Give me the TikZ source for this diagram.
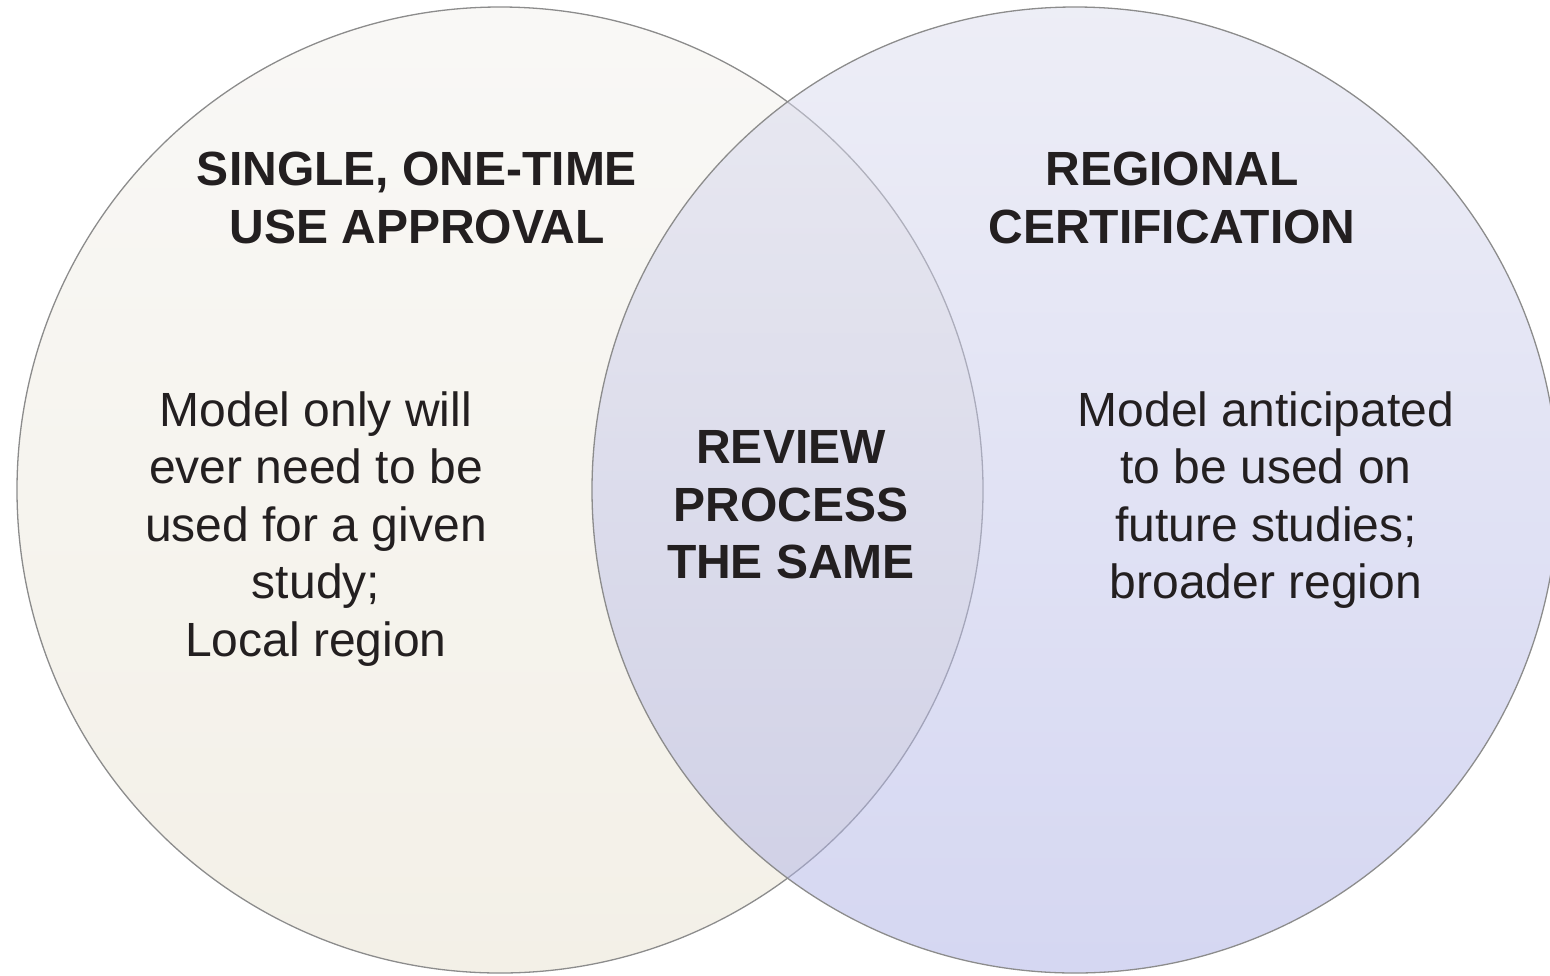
\documentclass[tikz,border=0pt]{standalone}
\usepackage{fontspec}
\setmainfont{Liberation Sans}
\usetikzlibrary{positioning}

\definecolor{leftTop}{RGB}{249,248,246}
\definecolor{leftBot}{RGB}{243,240,231}
\definecolor{rightTop}{RGB}{220,221,238}
\definecolor{rightBot}{RGB}{171,175,229}
\definecolor{rimgray}{RGB}{140,140,140}
\definecolor{inkgray}{RGB}{35,31,32}

\begin{document}
\begin{tikzpicture}
	[
	x=0.5pt, y=-0.5pt,
	every node/.style={inner sep=0pt, align=center, text=inkgray, font=\fontsize{24}{28.75}\selectfont},
	heading/.style={font=\fontsize{24}{28.75}\selectfont\bfseries},
	rim/.style={draw=rimgray, line width=0.65pt}
	]
	\clip (0,0) rectangle (1550,975);

	\coordinate (@L) at (500,490);
	\coordinate (@R) at (1075,490);

	\draw[rim, top color=leftTop, bottom color=leftBot] (@L) circle[radius=241.5pt];
	\shade[top color=rightTop, bottom color=rightBot, fill opacity=0.5] (@R) circle[radius=241.5pt];
	\draw[rim] (@R) circle[radius=241.5pt];

	\node[heading] (single)   at (417,198) {SINGLE, ONE-TIME\\USE APPROVAL};
	\node[heading] (regional) at (1172,198) {REGIONAL\\CERTIFICATION};
	\node          (local)    at (316,529) {Model only will\\ever need to be\\used for a given\\study;\\Local region};
	\node[heading] (review)   at (791,505) {REVIEW\\PROCESS\\THE SAME};
	\node          (broad)    at (1266,500) {Model anticipated\\to be used on\\future studies;\\broader region};

\end{tikzpicture}
\end{document}
